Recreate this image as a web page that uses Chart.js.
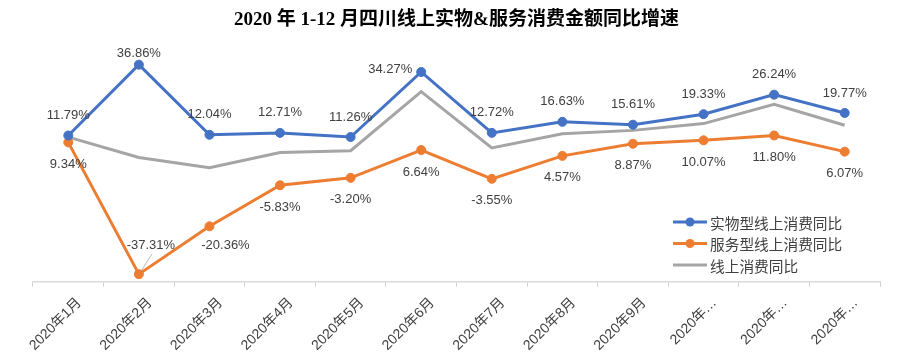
<!DOCTYPE html>
<html><head><meta charset="utf-8">
<script src="https://cdn.jsdelivr.net/npm/chart.js@4/dist/chart.umd.min.js"></script>
<style>html,body{margin:0;padding:0;background:#fff}#wrap{width:915px;height:357px;position:relative}</style>
</head><body><div id="wrap"><canvas id="c"></canvas></div>
<script>
const months = ['2020年1月','2020年2月','2020年3月','2020年4月','2020年5月','2020年6月','2020年7月','2020年8月','2020年9月','2020年10月','2020年11月','2020年12月'];
const physicalYoY = [11.79, 36.86, 12.04, 12.71, 11.26, 34.27, 12.72, 16.63, 15.61, 19.33, 26.24, 19.77];
const serviceYoY = [9.34, -37.31, -20.36, -5.83, -3.20, 6.64, -3.55, 4.57, 8.87, 10.07, 11.80, 6.07];
const onlineYoY = [11.2, 4.0, 0.4, 5.8, 6.4, 27.3, 7.4, 12.4, 13.6, 16.0, 22.8, 15.4];
const seriesNames = ['实物型线上消费同比', '服务型线上消费同比', '线上消费同比'];
const titleText = '2020 年 1-12 月四川线上实物&服务消费金额同比增速';

const BLUE = '#4472C4', ORANGE = '#ED7D31', GRAY = '#A5A5A5';

const pointLabels = {
  id: 'pointLabels',
  afterDatasetsDraw(chart, args, opts) {
    const ctx = chart.ctx;
    ctx.save();
    ctx.font = opts.font;
    ctx.textAlign = 'center';
    ctx.textBaseline = 'middle';
    chart.data.datasets.forEach((ds, di) => {
      const cfg = opts.series[di];
      if (!cfg) return;
      const meta = chart.getDatasetMeta(di);
      meta.data.forEach((pt, i) => {
        const adj = (opts.adjust[di] && opts.adjust[di][i]) || {};
        const dx = adj.dx !== undefined ? adj.dx : 0;
        const dy = adj.dy !== undefined ? adj.dy : cfg.dy;
        const x = pt.x + dx, y = pt.y + dy;
        if (adj.leader) {
          ctx.strokeStyle = '#A6A6A6';
          ctx.lineWidth = 0.8;
          ctx.beginPath();
          ctx.moveTo(pt.x + 2, pt.y - 3);
          ctx.lineTo(x + 1, y + 9);
          ctx.stroke();
        }
        ctx.fillStyle = opts.color;
        ctx.fillText(ds.data[i].toFixed(2) + '%', x, y);
      });
    });
    ctx.restore();
  }
};

const insideLegend = {
  id: 'insideLegend',
  afterDraw(chart, args, opts) {
    const ctx = chart.ctx;
    ctx.save();
    ctx.font = opts.font;
    ctx.textBaseline = 'middle';
    ctx.textAlign = 'left';
    chart.data.datasets.forEach((ds, i) => {
      const y = opts.y + i * opts.rowGap;
      ctx.strokeStyle = ds.borderColor;
      ctx.lineWidth = ds.borderWidth;
      ctx.beginPath();
      ctx.moveTo(opts.x, y);
      ctx.lineTo(opts.x + opts.lineLen, y);
      ctx.stroke();
      if (ds.pointRadius > 0) {
        ctx.fillStyle = ds.borderColor;
        ctx.beginPath();
        ctx.arc(opts.x + opts.lineLen / 2, y, ds.pointRadius, 0, Math.PI * 2);
        ctx.fill();
      }
      ctx.fillStyle = opts.color;
      ctx.fillText(ds.label, opts.x + opts.lineLen + 3, y + 1);
    });
    ctx.restore();
  }
};

new Chart(document.getElementById('c'), {
  type: 'line',
  data: {
    labels: months,
    datasets: [
      { label: seriesNames[0], data: physicalYoY, borderColor: BLUE, backgroundColor: BLUE, borderWidth: 3, pointRadius: 4.5, pointHoverRadius: 4.5, pointBorderWidth: 1, tension: 0 },
      { label: seriesNames[1], data: serviceYoY, borderColor: ORANGE, backgroundColor: ORANGE, borderWidth: 3, pointRadius: 4.5, pointHoverRadius: 4.5, pointBorderWidth: 1, tension: 0 },
      { label: seriesNames[2], data: onlineYoY, borderColor: GRAY, backgroundColor: GRAY, borderWidth: 3, pointRadius: 0, pointHoverRadius: 0, tension: 0 }
    ]
  },
  options: {
    responsive: true,
    maintainAspectRatio: false,
    animation: false,
    devicePixelRatio: 1,
    layout: { padding: { left: 33, right: 35, top: 0, bottom: -5 } },
    scales: {
      x: {
        offset: true,
        grid: { offset: true, drawOnChartArea: false, drawTicks: true, tickLength: 5, color: '#D0D0D0', lineWidth: 1 },
        border: { color: '#D9D9D9', width: 1.5 },
        ticks: {
          autoSkip: false, maxRotation: 45, minRotation: 45, padding: 8, labelOffset: 11,
          color: '#404040', font: { size: 14, family: "'Liberation Sans','Noto Sans CJK SC'" },
          callback: function (v) {
            const s = this.getLabelForValue(v);
            return s.length > 7 ? s.slice(0, 5) + '…' : s;
          }
        }
      },
      y: { display: false, min: -40, max: 40 }
    },
    plugins: {
      legend: { display: false },
      tooltip: { enabled: false },
      title: {
        display: true, text: titleText, color: '#000',
        font: { size: 19, weight: 'bold', family: "'Liberation Serif','Noto Sans CJK SC'" },
        padding: { top: 9, bottom: 24 }
      },
      pointLabels: {
        font: "13px 'Liberation Sans','Noto Sans CJK SC'",
        color: '#404040',
        series: { 0: { dy: -20 }, 1: { dy: 22 } },
        adjust: {
          0: { 1: { dy: -11 }, 5: { dx: -31, dy: -3 } },
          1: { 1: { dx: 12, dy: -29, leader: true }, 2: { dx: 16, dy: 19 } }
        }
      },
      insideLegend: {
        x: 673, y: 222, rowGap: 21.5, lineLen: 34,
        font: "14.7px 'Noto Sans CJK SC'", color: '#404040'
      }
    }
  },
  plugins: [pointLabels, insideLegend]
});
</script>
</body></html>
